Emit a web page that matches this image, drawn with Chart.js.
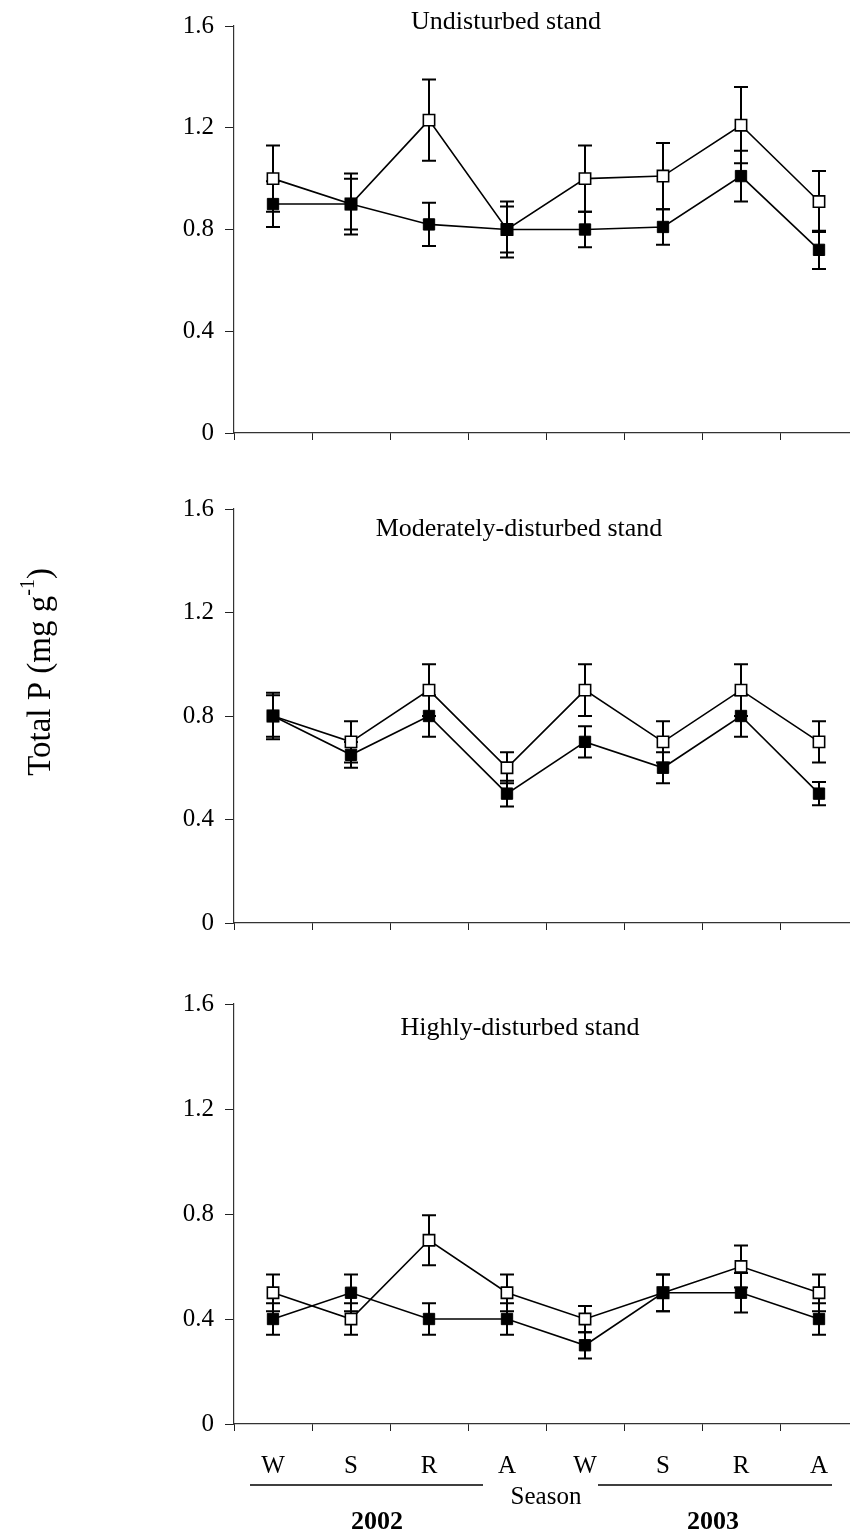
<!DOCTYPE html>
<html>
<head>
<meta charset="utf-8">
<title>Total P by season</title>
<script src="https://cdn.jsdelivr.net/npm/chart.js@4.4.1/dist/chart.umd.min.js"></script>
<style>
  html, body { margin: 0; padding: 0; background: #fff; overflow: hidden; }
  #wrap { position: relative; width: 850px; height: 1537px; overflow: hidden; }
  canvas { position: absolute; left: 0; }
</style>
</head>
<body>
<div id="wrap">
  <canvas id="panel1" width="870" height="465" style="top:0px"></canvas>
  <canvas id="panel2" width="870" height="490" style="top:465px"></canvas>
  <canvas id="panel3" width="870" height="582" style="top:955px"></canvas>
</div>
<script>
// Season codes, two years of sampling
const seasons = ['W', 'S', 'R', 'A', 'W', 'S', 'R', 'A'];
const yTicks = [0, 0.4, 0.8, 1.2, 1.6];
const years = ['2002', '2003'];

// Undisturbed stand
const undistOpen = [1.00, 0.90, 1.23, 0.80, 1.00, 1.01, 1.21, 0.91];
const undistOpenErr = [0.13, 0.12, 0.16, 0.11, 0.13, 0.13, 0.15, 0.12];
const undistFilled = [0.90, 0.90, 0.82, 0.80, 0.80, 0.81, 1.01, 0.72];
const undistFilledErr = [0.09, 0.10, 0.085, 0.09, 0.07, 0.07, 0.10, 0.075];

// Moderately-disturbed stand
const modOpen = [0.80, 0.70, 0.90, 0.60, 0.90, 0.70, 0.90, 0.70];
const modOpenErr = [0.09, 0.08, 0.10, 0.06, 0.10, 0.08, 0.10, 0.08];
const modFilled = [0.80, 0.65, 0.80, 0.50, 0.70, 0.60, 0.80, 0.50];
const modFilledErr = [0.08, 0.05, 0.08, 0.05, 0.06, 0.06, 0.08, 0.045];

// Highly-disturbed stand
const highOpen = [0.50, 0.40, 0.70, 0.50, 0.40, 0.50, 0.60, 0.50];
const highOpenErr = [0.07, 0.06, 0.095, 0.07, 0.05, 0.07, 0.08, 0.07];
const highFilled = [0.40, 0.50, 0.40, 0.40, 0.30, 0.50, 0.50, 0.40];
const highFilledErr = [0.06, 0.07, 0.06, 0.06, 0.05, 0.07, 0.075, 0.06];

const SERIF = "'Liberation Serif', 'Times New Roman', serif";

// Vertical error bars with caps, drawn under the markers
const errorBars = {
  id: 'errorBars',
  beforeDatasetsDraw(chart) {
    const ctx = chart.ctx;
    const y = chart.scales.y;
    ctx.save();
    ctx.strokeStyle = '#000';
    ctx.lineWidth = 2;
    chart.data.datasets.forEach((ds, di) => {
      const meta = chart.getDatasetMeta(di);
      meta.data.forEach((pt, i) => {
        const v = ds.data[i];
        const e = ds.errors[i];
        const yTop = y.getPixelForValue(v + e);
        const yBot = y.getPixelForValue(v - e);
        ctx.beginPath();
        ctx.moveTo(pt.x, yTop);
        ctx.lineTo(pt.x, yBot);
        ctx.moveTo(pt.x - 7, yTop);
        ctx.lineTo(pt.x + 7, yTop);
        ctx.moveTo(pt.x - 7, yBot);
        ctx.lineTo(pt.x + 7, yBot);
        ctx.stroke();
      });
    });
    ctx.restore();
  }
};

// Stand name inside the plot
const panelTitle = {
  id: 'panelTitle',
  afterDraw(chart, args, opts) {
    if (!opts.text) return;
    const ctx = chart.ctx;
    ctx.save();
    ctx.fillStyle = '#000';
    ctx.font = '26px ' + SERIF;
    ctx.textAlign = 'center';
    ctx.textBaseline = 'middle';
    ctx.fillText(opts.text, opts.x, opts.y);
    ctx.restore();
  }
};

// Rotated y-axis label with superscript
const yLabel = {
  id: 'yLabel',
  afterDraw(chart, args, opts) {
    if (!opts.show) return;
    const ctx = chart.ctx;
    ctx.save();
    ctx.translate(opts.x, opts.y);
    ctx.rotate(-Math.PI / 2);
    ctx.fillStyle = '#000';
    ctx.textBaseline = 'middle';
    const main = '33px ' + SERIF;
    const sup = '20px ' + SERIF;
    ctx.font = main;
    const w1 = ctx.measureText('Total P (mg g').width;
    const w3 = ctx.measureText(')').width;
    ctx.font = sup;
    const w2 = ctx.measureText('-1').width;
    let x = -(w1 + w2 + w3) / 2;
    ctx.font = main;
    ctx.fillText('Total P (mg g', x, 0);
    x += w1;
    ctx.font = sup;
    ctx.fillText('-1', x, -12);
    x += w2;
    ctx.font = main;
    ctx.fillText(')', x, 0);
    ctx.restore();
  }
};

// Season caption and year brackets under the bottom panel
const yearBrackets = {
  id: 'yearBrackets',
  afterDraw(chart, args, opts) {
    if (!opts.show) return;
    const ctx = chart.ctx;
    const x = chart.scales.x;
    ctx.save();
    ctx.strokeStyle = '#000';
    ctx.lineWidth = 1.5;
    ctx.beginPath();
    ctx.moveTo(x.getPixelForValue(0) - 23, opts.lineY);
    ctx.lineTo(x.getPixelForValue(3) - 24, opts.lineY);
    ctx.moveTo(x.getPixelForValue(4) + 13, opts.lineY);
    ctx.lineTo(x.getPixelForValue(7) + 13, opts.lineY);
    ctx.stroke();
    ctx.fillStyle = '#000';
    ctx.textAlign = 'center';
    ctx.textBaseline = 'middle';
    ctx.font = '25px ' + SERIF;
    ctx.fillText('Season', (x.getPixelForValue(3) + x.getPixelForValue(4)) / 2, opts.seasonY);
    ctx.font = 'bold 26px ' + SERIF;
    ctx.fillText(years[0], (x.getPixelForValue(1) + x.getPixelForValue(2)) / 2 - 13, opts.yearY);
    ctx.fillText(years[1], (x.getPixelForValue(5) + x.getPixelForValue(6)) / 2 + 11, opts.yearY);
    ctx.restore();
  }
};

function makePanel(id, open, openErr, filled, filledErr, cfg) {
  const canvas = document.getElementById(id);
  return new Chart(canvas, {
    type: 'line',
    data: {
      labels: seasons,
      datasets: [{
        data: open,
        errors: openErr,
        order: 2,
        borderColor: '#000',
        borderWidth: 1.6,
        pointStyle: 'rect',
        pointRadius: 8,
        pointBackgroundColor: '#fff',
        pointBorderColor: '#000',
        pointBorderWidth: 1.6,
        tension: 0
      }, {
        data: filled,
        errors: filledErr,
        order: 1,
        borderColor: '#000',
        borderWidth: 1.6,
        pointStyle: 'rect',
        pointRadius: 8,
        pointBackgroundColor: '#000',
        pointBorderColor: '#000',
        pointBorderWidth: 1,
        tension: 0
      }]
    },
    options: {
      responsive: false,
      animation: false,
      devicePixelRatio: 1,
      layout: {
        autoPadding: false,
        padding: { top: cfg.top, right: 12, bottom: 0, left: 0 }
      },
      plugins: {
        legend: { display: false },
        tooltip: { enabled: false },
        panelTitle: { text: cfg.title, x: cfg.titleX, y: cfg.titleY },
        yLabel: cfg.yLabel || { show: false },
        yearBrackets: cfg.brackets || { show: false }
      },
      scales: {
        x: {
          type: 'category',
          offset: true,
          afterFit(scale) { scale.height = canvas.height - cfg.bottom; },
          grid: {
            offset: true,
            drawOnChartArea: false,
            drawTicks: true,
            tickLength: 7,
            color: '#222',
            lineWidth: 1
          },
          border: { display: true, color: '#333', width: 1.2 },
          ticks: {
            display: !!cfg.showLabels,
            color: '#000',
            padding: 20,
            maxRotation: 0,
            font: { family: SERIF, size: 25 }
          }
        },
        y: {
          min: 0,
          max: 1.6,
          afterFit(scale) { scale.width = 234; },
          afterBuildTicks(scale) { scale.ticks = yTicks.map(v => ({ value: v })); },
          grid: {
            drawOnChartArea: false,
            drawTicks: true,
            tickLength: 9,
            color: '#222',
            lineWidth: 1
          },
          border: { display: true, color: '#333', width: 1.2 },
          ticks: {
            color: '#000',
            padding: 11,
            font: { family: SERIF, size: 25 },
            callback: v => (v === 0 ? '0' : v.toFixed(1))
          }
        }
      }
    },
    plugins: [errorBars, panelTitle, yLabel, yearBrackets]
  });
}

makePanel('panel1', undistOpen, undistOpenErr, undistFilled, undistFilledErr, {
  top: 22, bottom: 433, title: 'Undisturbed stand', titleX: 506, titleY: 22
});

makePanel('panel2', modOpen, modOpenErr, modFilled, modFilledErr, {
  top: 44, bottom: 458, title: 'Moderately-disturbed stand', titleX: 519, titleY: 64,
  yLabel: { show: true, x: 41, y: 207 }
});

makePanel('panel3', highOpen, highOpenErr, highFilled, highFilledErr, {
  top: 49, bottom: 469, title: 'Highly-disturbed stand', titleX: 520, titleY: 73,
  showLabels: true,
  brackets: { show: true, lineY: 530, seasonY: 542, yearY: 567 }
});
</script>
</body>
</html>
